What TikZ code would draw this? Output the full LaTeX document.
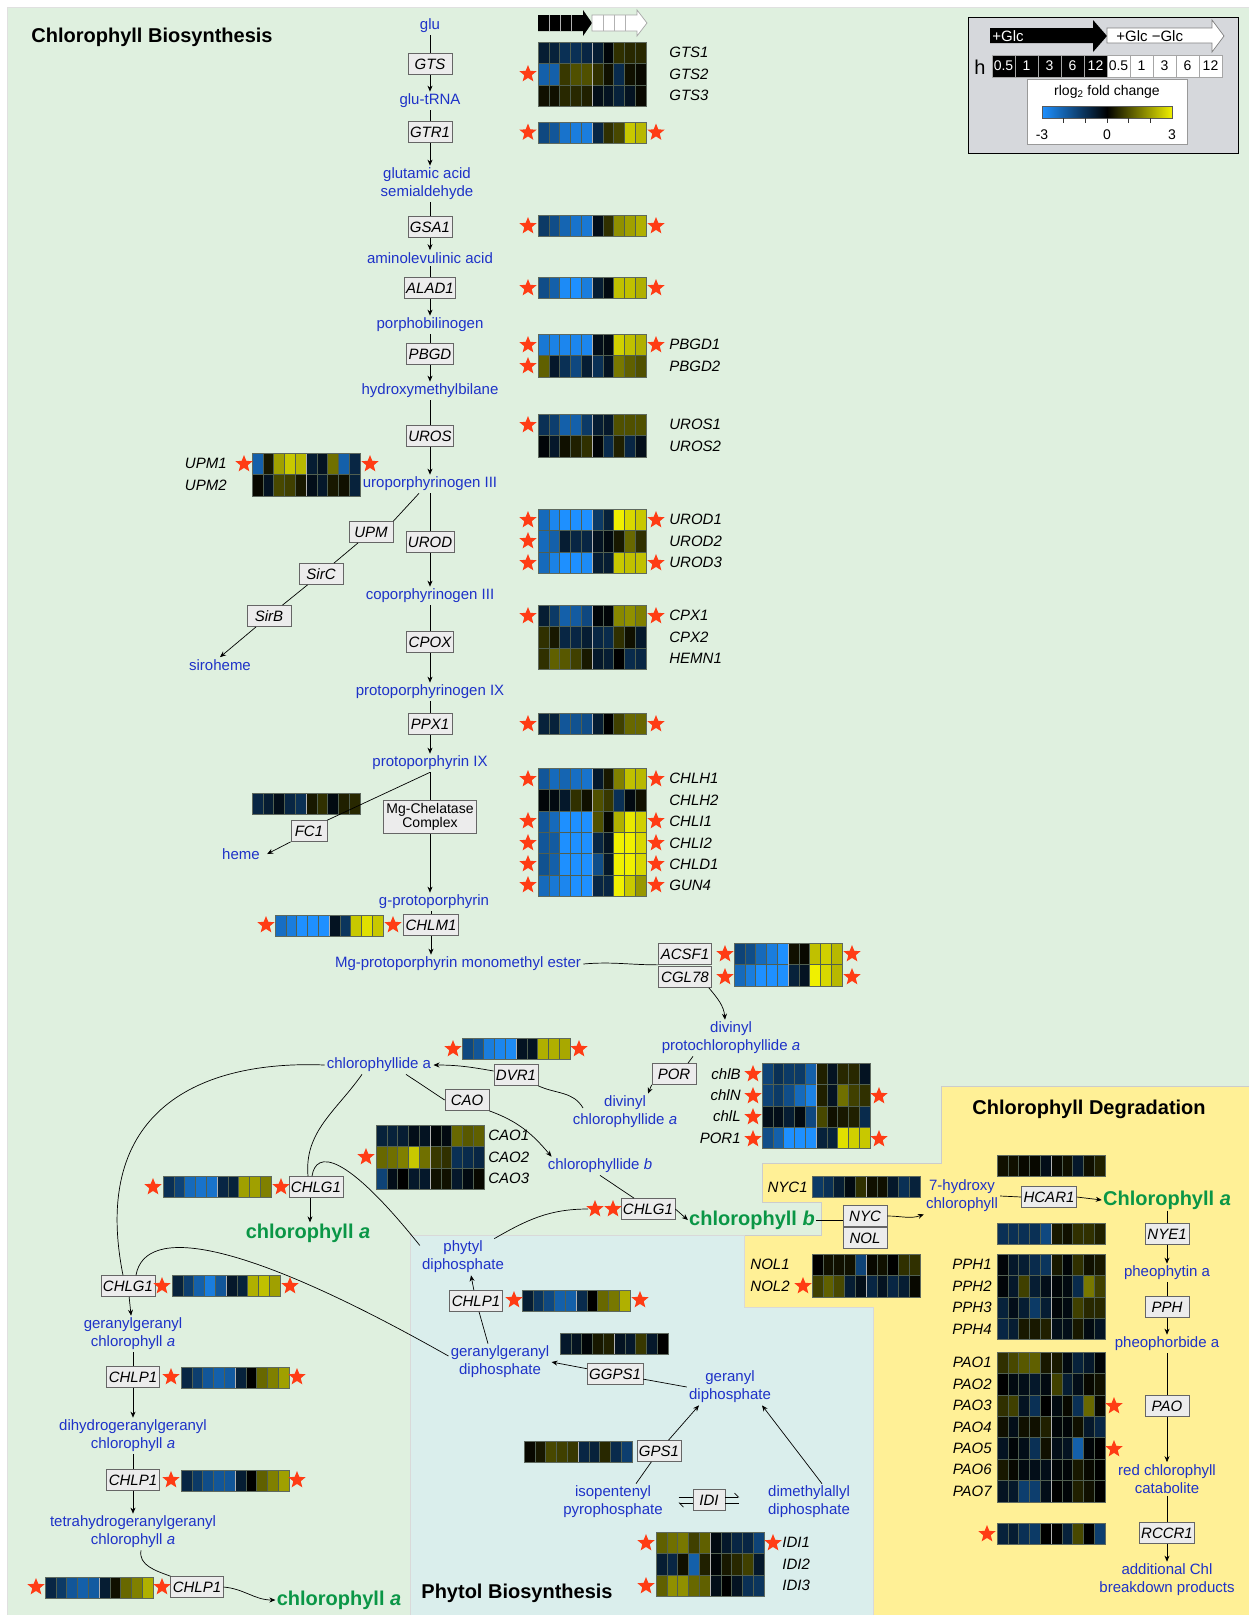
\documentclass[tikz,border=0pt]{standalone}
\usepackage{fontspec}
\setmainfont{Liberation Sans}
\usetikzlibrary{arrows.meta, positioning}

\definecolor{fondoverde}{RGB}{223,240,223}
\definecolor{fondocian}{RGB}{218,238,236}
\definecolor{fondoamar}{RGB}{255,240,150}
\definecolor{metazul}{RGB}{30,50,200}
\definecolor{verdeclor}{RGB}{10,150,70}
\definecolor{hmazul}{RGB}{30,144,255}
\definecolor{hmamar}{RGB}{240,240,0}
\definecolor{hmborde}{RGB}{80,95,80}
\definecolor{cajagris}{RGB}{236,236,236}
\definecolor{estrojo}{RGB}{255,60,20}
\definecolor{leyenda}{RGB}{214,216,220}

% Bloque de mapa de calor: x, y (esquina superior izquierda), filas, valores
\newcommand{\hmbloque}[4]{%
  \foreach \fila [count=\j] in {#4} {%
    \foreach \v [count=\i] in \fila {%
      \pgfmathsetmacro\pc{min(100,abs(\v)*33.3)}%
      \ifdim\v pt<0pt\relax \colorlet{hmc}{hmazul!\pc!black}\else \colorlet{hmc}{hmamar!\pc!black}\fi
      \fill[hmc] ({#1+(\i-1)*10.8},{#2+(\j-1)*21.4}) rectangle ++(10.8,21.4);
    }%
  }%
  \foreach \i in {1,...,9} \draw[hmborde, line width=0.4pt] ({#1+\i*10.8},#2) -- ++(0,{#3*21.4});
  \ifnum#3>1 \foreach \j in {2,...,#3} \draw[hmborde, line width=0.4pt] (#1,{#2+(\j-1)*21.4}) -- ++(108,0);\fi
  \draw[gray!60, line width=1pt] ({#1+54},#2) -- ++(0,{#3*21.4});
  \draw[hmborde!70!gray, line width=0.5pt] (#1,#2) rectangle ++(108,{#3*21.4});
}
% Estrella roja centrada en (x,y)
\newcommand{\est}[2]{\fill[estrojo, shift={(#1,#2)}] (0,-9) -- (2.3,-3.17) -- (8.56,-2.78)
  -- (3.73,1.21) -- (5.29,7.28) -- (0,3.92) -- (-5.29,7.28) -- (-3.73,1.21) -- (-8.56,-2.78)
  -- (-2.3,-3.17) -- cycle;}

\begin{document}
\begin{tikzpicture}[x=1pt, y=-1pt, line width=0.7pt, >={Stealth[length=6pt,width=5pt]},
  met/.style={text=metazul, font=\fontsize{15}{18}\selectfont, align=center, inner sep=2pt},
  enz/.style={draw=gray!80!black, fill=cajagris, font=\fontsize{15}{17}\selectfont\itshape,
    inner sep=2pt, minimum width=44pt, minimum height=21pt},
  gen/.style={font=\fontsize{15}{17}\selectfont\itshape, inner sep=1pt},
  verde/.style={text=verdeclor, font=\fontsize{20}{22}\selectfont\bfseries, inner sep=1pt},
  titulo/.style={font=\fontsize{20}{22}\selectfont\bfseries, inner sep=1pt},
  leytxt/.style={font=\fontsize{14}{16}\selectfont, inner sep=1pt}]
\useasboundingbox (0,0) rectangle (1249,1615);

% Fondos de las tres zonas
\filldraw[fill=fondoverde, draw=black!12] (7,7) rectangle (1249,1615);
\filldraw[fill=fondoamar, draw=black!20] (941,1086) -- (1249,1086) -- (1249,1615) -- (873,1615)
  -- (873,1307) -- (744,1307) -- (744,1235) -- (821,1235) -- (821,1202) -- (762,1202)
  -- (762,1163) -- (941,1163) -- cycle;
\filldraw[fill=fondocian, draw=black!15] (410,1235) -- (744,1235) -- (744,1307) -- (873,1307)
  -- (873,1615) -- (410,1615) -- cycle;

% Cabecera de las columnas
\fill[black] (538,15) -- (583,15) -- (583,10) -- (592,23) -- (583,36) -- (583,31) -- (538,31) -- cycle;
\foreach \c in {549.2,560.5,571.7} \draw[gray!60, line width=0.5pt] (\c,15) -- (\c,31);
\filldraw[fill=white, draw=gray!70] (592,15) -- (637,15) -- (637,10) -- (647,23) -- (637,36) -- (637,31) -- (592,31) -- cycle;
\foreach \c in {603.2,614.5,625.7} \draw[gray!60, line width=0.5pt] (\c,15) -- (\c,31);

% Mapas de calor: columna derecha
\hmbloque{538}{42}{3}{{-0.6,-0.7,-1,-1,-0.8,-0.6,-0.1,0.6,0.5,0.5},{-2,-2,0.7,1,1,0.6,0.2,-0.9,0.2,0.1},{0.2,0.2,0.5,0.5,0.4,-0.3,-0.4,-0.7,-0.4,0.1}}
\hmbloque{538}{122}{1}{{-1.5,-1.8,-2.4,-2.6,-2.6,-0.8,0.6,0.9,2.5,2.3}}
\hmbloque{538}{215}{1}{{-1.2,-1.6,-2.1,-2.4,-2.5,-0.3,0.6,1.8,2,2.2}}
\hmbloque{538}{277}{1}{{-1.6,-2,-2.9,-3,-2.6,-0.6,-0.2,2.4,2.4,2.2}}
\hmbloque{538}{334}{2}{{-2.5,-2.7,-2.8,-2.8,-2.8,-0.3,-0.2,2.6,2.4,2.2},{1.2,-0.5,-1,-1.5,-0.6,-1,-0.4,1.5,1.2,1}}
\hmbloque{538}{414}{2}{{-1,-1.3,-2,-2,-1.2,-0.6,-0.5,1,1,1},{-0.1,-0.5,0.2,0.4,0.6,-0.1,-0.9,0.4,-0.8,-0.3}}
\hmbloque{538}{509}{3}{{-2.2,-2.8,-3,-3,-3,-1.2,-0.7,3,2.7,2.5},{-2.2,-2,-0.6,-0.8,-0.8,-0.4,-0.2,0.3,1.3,0.6},{-2.2,-2.7,-3,-3,-2.9,-0.6,-0.6,2.5,2.4,2.4}}
\hmbloque{538}{605}{3}{{-0.6,-1.2,-2,-1.9,-1.5,-0.1,-0.1,1.7,1.8,1.6},{0.6,0.3,-0.8,-0.8,-0.6,-0.8,-0.9,0.6,0.2,-0.5},{0.6,1.2,1.1,0.8,0.3,-0.5,-0.6,0,-0.9,-0.8}}
\hmbloque{538}{713}{1}{{-0.7,-0.7,-1.8,-1.7,-1.6,-0.6,0,0.8,1.3,1.3}}
\hmbloque{538}{768}{6}{{-1.8,-2.2,-2.1,-2.3,-2.4,-0.5,0.3,1.6,2.4,2.3},{-0.1,-0.2,-0.5,0.6,0.2,1,0.7,-1,-0.2,0.2},{-1.8,-2.2,-3,-3,-3,1,0.1,2.2,2.9,2.6},{-1.8,-1.9,-3,-3,-3,-0.8,-0.4,3,3,2.7},{-1.7,-2,-3,-3,-3,-1.6,-0.5,3,3,2.7},{-2.2,-2.5,-2.8,-3,-3,-0.8,-0.8,3,2.5,1.9}}

% Mapas de calor: resto de la biosintesis
\hmbloque{252}{453}{2}{{-2,0.3,2,2.5,2.3,-0.6,-0.4,1.4,-2,-0.8},{0.1,-0.4,0.9,0.8,0.3,-0.3,-0.5,0.3,0.2,-0.7}}
\hmbloque{252}{793}{1}{{-0.8,-0.6,-0.3,-0.8,-1,0.3,0.6,-0.2,0.4,0.5}}
\hmbloque{275}{915}{1}{{-2.3,-2.6,-3,-3,-3,-0.4,-1.1,2.5,2.8,2.5}}
\hmbloque{734}{943}{2}{{-1.4,-1.6,-2.2,-2.6,-3,0.2,0.1,2.4,2.6,2.3},{-2.2,-2.6,-3,-3,-3,-0.7,-0.4,3,2.7,2.3}}
\hmbloque{462}{1038}{1}{{-1.5,-1.8,-2.6,-2.8,-2.9,-0.4,-0.4,2.2,2.2,2.1}}
\hmbloque{762}{1063}{4}{{-1.4,-1,-1.2,-1.2,-2,0.4,-0.4,0.5,0.5,-0.4},{-1.4,-1.2,-1.6,-2.2,-2.7,0.4,-0.4,1.4,0.8,0.6},{-0.3,-0.3,-0.6,-0.2,-1.5,0.9,0.2,0.3,0.4,-0.9},{-1.6,-2,-3,-3,-3,-0.7,-0.7,2.8,2.6,2.5}}
\hmbloque{376}{1125}{3}{{-0.7,-0.7,-0.6,-0.3,-0.4,-0.1,-0.2,1.3,1.1,1.2},{1.3,1.4,1.6,2.5,1.4,0.7,0.6,-1,-0.9,-0.8},{-1.4,-0.3,0,-0.5,-0.5,0.2,0.2,-0.5,-0.2,0.1}}
\hmbloque{163}{1176}{1}{{-1,-1.4,-2.2,-2.4,-2.4,-0.8,-0.7,2,2,1.6}}
\hmbloque{172}{1275}{1}{{-0.7,-1.3,-2,-2.6,-1.8,-0.5,-0.7,2.2,2.4,2}}
\hmbloque{181}{1367}{1}{{-0.8,-1.3,-1.8,-2,-1.9,-0.7,0,1.3,1.6,2}}
\hmbloque{181}{1470}{1}{{-0.8,-1.2,-1.6,-1.8,-1.8,-0.6,0,1.2,1.6,2}}
\hmbloque{45}{1577}{1}{{-0.8,-1.2,-1.8,-2,-1.9,-0.6,0.2,1.3,1.6,2.2}}

% Mapas de calor: fitol
\hmbloque{522}{1290}{1}{{-0.6,-1.1,-1.5,-2,-2,-0.9,0,1.3,1.5,2.2}}
\hmbloque{560}{1333}{1}{{-0.5,-0.4,-0.1,0.3,0.4,-0.4,-0.5,0.7,-0.5,0}}
\hmbloque{524}{1441}{1}{{0.1,0.3,0.9,0.8,0.7,-0.8,-0.7,0.5,-0.9,-1.3}}
\hmbloque{656}{1532}{3}{{1.2,1.4,1.5,0.8,1.2,-0.2,-0.5,-0.8,-0.8,-1.4},{-0.6,-0.8,0.2,-2,0.4,-0.1,0.3,0.5,0.8,-0.5},{1.2,1.8,1.8,1.3,1.2,-0.3,0,-0.4,-1,-1.1}}

% Mapas de calor: degradacion
\hmbloque{812}{1176}{1}{{-1.2,-1,-0.6,-0.2,0.6,0.2,0.2,-0.5,-1,-0.7}}
\hmbloque{812}{1254}{2}{{0,0.2,0.2,0.2,-1.4,0.1,0.2,0,0.6,0.6},{0.8,1.2,0.9,-0.6,-0.3,-0.8,-0.4,-0.8,-0.6,0.1}}
\hmbloque{997}{1155}{1}{{0.2,0.2,0.1,0.1,-0.3,0.1,0.2,-0.5,0.2,0.4}}
\hmbloque{997}{1223}{1}{{-1,-1,-1,-1,-1.5,0.3,0.2,0.6,0.6,0.4}}
\hmbloque{997}{1254}{4}{{-0.1,-0.5,-0.6,-0.9,-1.1,0.3,-0.1,0.6,0.2,0.3},{-0.1,-0.5,0.8,-0.6,-0.3,-0.1,-0.2,-0.9,1.5,0.8},{-0.7,-0.3,-0.6,-1.2,-0.6,-0.1,-0.2,0.8,0.5,0.5},{-0.8,-0.6,0.3,0.3,0.4,-0.3,-0.3,0.3,-0.2,-0.4}}
\hmbloque{997}{1352}{7}{{0.6,0.9,1.1,1.2,0.3,0.3,-0.2,-0.7,-0.5,-0.1},{0,-0.2,-0.3,-0.5,-0.2,0.8,-0.6,-0.3,0.1,0.2},{0.6,0.8,-0.4,-1,0,-0.2,0.1,-1,1.3,0.1},{0.2,-0.3,0.2,0.2,0.4,-0.1,-0.1,0.2,-0.5,-0.8},{-0.4,-0.1,-0.3,-1,0.2,-0.3,-0.4,-2,-0.1,0},{0.3,0.1,-0.2,-0.3,-0.3,-0.1,-0.1,0.3,0.1,0},{-0.4,-0.5,-1.3,-1.3,-0.3,0,-0.1,0.4,0.2,0}}
\hmbloque{997}{1523}{1}{{-0.7,-0.6,-1,-1.2,0,0,-0.7,0.9,0,-1.3}}

% Titulos
\node[titulo] (tbio) at (152,37) {Chlorophyll Biosynthesis};
\node[titulo] (tdeg) at (1089,1109) {Chlorophyll Degradation};
\node[titulo] (tfit) at (517,1593) {Phytol Biosynthesis};

% Columna principal
\node[met] (glu) at (430,26) {glu};
\node[enz] (GTS) at (430,64) {GTS};
\node[met] (glutrna) at (430,101) {glu-tRNA};
\node[enz] (GTR1) at (430,132) {GTR1};
\node[met] (gsald) at (427,184) {glutamic acid\\semialdehyde};
\node[enz] (GSA1) at (430,227) {GSA1};
\node[met] (ala) at (430,258) {aminolevulinic acid};
\node[enz] (ALAD1) at (430,288) {ALAD1};
\node[met] (pbg) at (430,325) {porphobilinogen};
\node[enz] (PBGD) at (430,354) {PBGD};
\node[met] (hmb) at (430,391) {hydroxymethylbilane};
\node[enz] (UROS) at (430,436) {UROS};
\node[met] (urogen) at (430,484) {uroporphyrinogen III};
\node[enz] (UROD) at (430,542) {UROD};
\node[met] (coprogen) at (430,596) {coporphyrinogen III};
\node[enz] (CPOX) at (430,642) {CPOX};
\node[met] (protogen) at (430,692) {protoporphyrinogen IX};
\node[enz] (PPX1) at (430,724) {PPX1};
\node[met] (proto) at (430,763) {protoporphyrin IX};
\node[enz, font=\fontsize{14}{14}\selectfont, align=center, inner sep=3pt] (MgCh) at (430,817) {Mg-Chelatase\\Complex};
\node[met] (mgproto) at (434,902) {g-protoporphyrin};
\node[enz] (CHLM1) at (431,925) {CHLM1};
\node[met] (mgpme) at (458,964) {Mg-protoporphyrin monomethyl ester};

% Ramas laterales
\node[enz] (UPM) at (371,532) {UPM};
\node[enz] (SirC) at (321,574) {SirC};
\node[enz] (SirB) at (269,616) {SirB};
\node[met] (siroheme) at (220,665) {siroheme};
\node[enz, minimum width=36pt] (FC1) at (309,831) {FC1};
\node[met] (heme) at (241,854) {heme};

% Clorofilidas
\node[enz, minimum width=53pt] (ACSF1) at (685,954) {ACSF1};
\node[enz, minimum width=53pt] (CGL78) at (685,977) {CGL78};
\node[met] (dvpchlide) at (731,1038) {divinyl\\protochlorophyllide \textit{a}};
\node[enz] (POR) at (674,1074) {POR};
\node[met] (dvchlide) at (625,1112) {divinyl\\chlorophyllide \textit{a}};
\node[enz] (DVR1) at (516,1075) {DVR1};
\node[met] (chlidea) at (379,1065) {chlorophyllide a};
\node[enz] (CAO) at (467,1100) {CAO};
\node[met] (chlideb) at (600,1166) {chlorophyllide \textit{b}};
\node[enz] (CHLG1b) at (648,1209) {CHLG1};
\node[verde] (chlb) at (752,1220) {chlorophyll \textit{b}};
\node[enz] (CHLG1a) at (316,1187) {CHLG1};
\node[verde] (chla1) at (308,1233) {chlorophyll \textit{a}};

% Via de la geranilgeranil clorofila
\node[enz] (CHLG1c) at (128,1286) {CHLG1};
\node[met] (ggchla) at (133,1334) {geranylgeranyl\\chlorophyll \textit{a}};
\node[enz] (CHLP1a) at (133,1377) {CHLP1};
\node[met] (dhggchla) at (133,1436) {dihydrogeranylgeranyl\\chlorophyll \textit{a}};
\node[enz] (CHLP1b) at (133,1480) {CHLP1};
\node[met] (thggchla) at (133,1532) {tetrahydrogeranylgeranyl\\chlorophyll \textit{a}};
\node[enz] (CHLP1c) at (197,1587) {CHLP1};
\node[verde] (chla2) at (339,1600) {chlorophyll \textit{a}};

% Biosintesis del fitol
\node[met] (phytylpp) at (463,1257) {phytyl\\diphosphate};
\node[enz] (CHLP1d) at (476,1301) {CHLP1};
\node[met] (ggpp) at (500,1362) {geranylgeranyl\\diphosphate};
\node[enz] (GGPS1) at (615,1374) {GGPS1};
\node[met] (gpp) at (730,1387) {geranyl\\diphosphate};
\node[enz] (GPS1) at (659,1451) {GPS1};
\node[met] (ipp) at (613,1502) {isopentenyl\\pyrophosphate};
\node[met] (dmapp) at (809,1502) {dimethylallyl\\diphosphate};
\node[enz, minimum width=32pt] (IDI) at (709,1500) {IDI};

% Degradacion
\node[enz] (NYC) at (865,1216) {NYC};
\node[enz] (NOL) at (865,1238) {NOL};
\node[met] (hchl) at (962,1196) {7-hydroxy\\chlorophyll};
\node[enz] (HCAR1) at (1049,1197) {HCAR1};
\node[verde] (Chla3) at (1167,1200) {Chlorophyll \textit{a}};
\node[enz] (NYE1) at (1167,1234) {NYE1};
\node[met] (pheophytin) at (1167,1273) {pheophytin a};
\node[enz] (PPH) at (1167,1307) {PPH};
\node[met] (pheophorbide) at (1167,1344) {pheophorbide a};
\node[enz] (PAO) at (1167,1406) {PAO};
\node[met] (rcc) at (1167,1479) {red chlorophyll\\catabolite};
\node[enz] (RCCR1) at (1167,1533) {RCCR1};
\node[met] (fccs) at (1167,1580) {additional Chl\\breakdown products};

% Nombres de los genes
\foreach \g [count=\k] in {GTS1,GTS2,GTS3} \node[gen, anchor=west] (g\g) at (668,{31.3+\k*21.4}) {\g};
\foreach \g [count=\k] in {PBGD1,PBGD2} \node[gen, anchor=west] (g\g) at (668,{323.3+\k*21.4}) {\g};
\foreach \g [count=\k] in {UROS1,UROS2} \node[gen, anchor=west] (g\g) at (668,{403.3+\k*21.4}) {\g};
\foreach \g [count=\k] in {UROD1,UROD2,UROD3} \node[gen, anchor=west] (g\g) at (668,{498.3+\k*21.4}) {\g};
\foreach \g [count=\k] in {CPX1,CPX2,HEMN1} \node[gen, anchor=west] (g\g) at (668,{594.3+\k*21.4}) {\g};
\foreach \g [count=\k] in {CHLH1,CHLH2,CHLI1,CHLI2,CHLD1,GUN4} \node[gen, anchor=west] (g\g) at (668,{757.3+\k*21.4}) {\g};
\foreach \g [count=\k] in {UPM1,UPM2} \node[gen, anchor=east] (g\g) at (228,{442.3+\k*21.4}) {\g};
\foreach \g [count=\k] in {chlB,chlN,chlL,POR1} \node[gen, anchor=east] (g\g) at (742,{1052.3+\k*21.4}) {\g};
\foreach \g [count=\k] in {CAO1,CAO2,CAO3} \node[gen, anchor=west] (g\g) at (487,{1114.3+\k*21.4}) {\g};
\foreach \g [count=\k] in {IDI1,IDI2,IDI3} \node[gen, anchor=west] (g\g) at (781,{1521.3+\k*21.4}) {\g};
\node[gen, anchor=east] (gNYC1) at (809,1187) {NYC1};
\foreach \g [count=\k] in {NOL1,NOL2} \node[gen, anchor=east] (g\g) at (791,{1243.3+\k*21.4}) {\g};
\foreach \g [count=\k] in {PPH1,PPH2,PPH3,PPH4} \node[gen, anchor=east] (g\g) at (993,{1243.3+\k*21.4}) {\g};
\foreach \g [count=\k] in {PAO1,PAO2,PAO3,PAO4,PAO5,PAO6,PAO7} \node[gen, anchor=east] (g\g) at (993,{1341.3+\k*21.4}) {\g};

% Flechas de la columna principal
\draw (glu) -- (GTS);
\draw[->] (GTS) -- (glutrna);
\draw (glutrna) -- (GTR1);
\draw[->] (GTR1) -- (GTR1 |- gsald.north);
\draw (GSA1 |- gsald.south) -- (GSA1);
\draw[->] (GSA1) -- (ala);
\draw (ala) -- (ALAD1);
\draw[->] (ALAD1) -- (pbg);
\draw (pbg) -- (PBGD);
\draw[->] (PBGD) -- (hmb);
\draw (hmb) -- (UROS);
\draw[->] (UROS) -- (urogen);
\draw (urogen) -- (UROD);
\draw[->] (UROD) -- (coprogen);
\draw (coprogen) -- (CPOX);
\draw[->] (CPOX) -- (protogen);
\draw (protogen) -- (PPX1);
\draw[->] (PPX1) -- (proto);
\draw (proto) -- (MgCh);
\draw[->] (MgCh) -- (MgCh |- mgproto.north);
\draw (CHLM1 |- mgproto.south) -- (CHLM1);
\draw[->] (CHLM1) -- (CHLM1 |- mgpme.north);

% Flechas de las ramas laterales
\draw ([xshift=-11pt]urogen.south) -- (UPM.north east);
\draw (UPM) -- (SirC);
\draw (SirC) -- (SirB);
\draw[->] (SirB) -- (siroheme.north);
\draw (proto.south) -- (FC1.north east);
\draw[->] (FC1.south west) -- ([xshift=5pt]heme.east);

% Flechas de las clorofilidas
\draw (mgpme.east) to[out=5,in=180] (ACSF1.south west);
\draw[->] ([xshift=-3pt]CGL78.south east) to[out=-50,in=95] ([xshift=-6pt]dvpchlide.north);
\draw ([xshift=-38pt]dvpchlide.south) -- ([xshift=14pt]POR.north);
\draw[->] (POR.south west) -- ([xshift=23pt]dvchlide.north);
\draw ([xshift=-42pt,yshift=4pt]dvchlide.center) to[out=120,in=-25] (DVR1.south east);
\draw[->] ([yshift=4pt]DVR1.west) to[out=170,in=0] (chlidea.east);
\draw ([xshift=27pt]chlidea.south) -- (CAO.west);
\draw[->] (CAO.south east) to[out=-20,in=130] ([xshift=6pt]chlideb.north west);
\draw (chlideb.south) -- ([xshift=-14pt]CHLG1b.north);
\draw[->] (CHLG1b.east) -- (chlb.west);
\draw ([xshift=-17pt]chlidea.south) to[out=-125,in=95] ([xshift=-8pt]CHLG1a.north);
\draw[->] ([xshift=-6pt]CHLG1a.south) -- ([xshift=-6pt]CHLG1a.south |- chla1.north);
\draw ([xshift=-4pt]CHLG1a.north) .. controls (316,1150) and (345,1152) .. (phytylpp.165);
\draw (chlidea.west) .. controls (200,1060) and (90,1110) .. ([xshift=-5pt]CHLG1c.north);
\draw ([xshift=8pt]CHLG1c.north) .. controls (145,1225) and (240,1238) .. ([yshift=6pt]ggpp.west);
\draw[->] (CHLG1c) -- (ggchla);
\draw (ggchla) -- (CHLP1a);
\draw[->] (CHLP1a) -- (dhggchla);
\draw (dhggchla) -- (CHLP1b);
\draw[->] (CHLP1b) -- (thggchla);
\draw ([xshift=8pt]thggchla.south) to[out=-100,in=160] (CHLP1c.north west);
\draw[->] (CHLP1c.east) to[out=-5,in=180] (chla2.west);

% Flechas del fitol
\draw ([xshift=-12pt]ggpp.north) -- (CHLP1d);
\draw[->] (CHLP1d) -- ([xshift=8pt]phytylpp.south);
\draw (gpp.west) -- (GGPS1);
\draw[->] (GGPS1) -- (ggpp.east);
\draw ([xshift=23pt]ipp.north) -- (GPS1);
\draw[->] (GPS1) -- ([xshift=-31pt]gpp.south);
\draw[->] ([xshift=13pt]dmapp.north) -- ([xshift=32pt]gpp.south);
\draw ([xshift=-14pt,yshift=3pt]IDI.west) -- ([yshift=3pt]IDI.west);
\draw[-{Straight Barb[left,length=4pt]}] ([yshift=-3pt]IDI.west) -- ([xshift=-14pt,yshift=-3pt]IDI.west);
\draw[-{Straight Barb[left,length=4pt]}] ([yshift=3pt]IDI.east) -- ([xshift=14pt,yshift=3pt]IDI.east);
\draw ([yshift=-3pt]IDI.east) -- ([xshift=14pt,yshift=-3pt]IDI.east);

% Flechas de la degradacion
\draw (chlb.east) -- (chlb.east -| NYC.west);
\draw[->] (NYC.east) to[out=0,in=200] (hchl.south west);
\draw (hchl.east) -- (HCAR1.west);
\draw[->] (HCAR1.east) -- (Chla3.west);
\draw (Chla3) -- (NYE1);
\draw[->] (NYE1) -- (pheophytin);
\draw (pheophytin) -- (PPH);
\draw[->] (PPH) -- (pheophorbide);
\draw (pheophorbide) -- (PAO);
\draw[->] (PAO) -- (rcc);
\draw (rcc) -- (RCCR1);
\draw[->] (RCCR1) -- (fccs);

% Estrellas
\est{528}{74}
\foreach \y in {132.5,226,288,345,366,425,520,541,563,616,724,779,821,843,864,885} {\est{528}{\y}}
\foreach \y in {132.5,226,288,345,520,563,616,724,779,821,843,864,885} {\est{656}{\y}}
\est{244}{464} \est{370}{464}
\est{266}{925} \est{393}{925}
\foreach \y in {954,977} {\est{725}{\y} \est{852}{\y}}
\est{453}{1049} \est{579}{1049}
\foreach \y in {1074,1096,1117,1139} {\est{753}{\y}}
\est{879}{1096} \est{879}{1139}
\est{366}{1157}
\est{153}{1187} \est{281}{1187}
\est{595}{1209} \est{613}{1209}
\coordinate (sCHLG1b) at (588,1209);
\est{162}{1286} \est{290}{1286}
\foreach \y in {1377,1480} {\est{171}{\y} \est{297}{\y}}
\est{36}{1587} \est{162}{1587}
\est{514}{1300} \est{640}{1300}
\est{646}{1543} \est{773}{1543} \est{646}{1586}
\est{803}{1286}
\est{1114}{1406} \est{1114}{1449}
\est{987}{1534}
\draw ([xshift=-12pt]phytylpp.north east) to[out=30,in=180] (sCHLG1b);

% Leyenda
\filldraw[fill=leyenda, draw=black, line width=1pt] (968,17) rectangle (1238,153);
\fill[black] (990,28) -- (1093,28) -- (1093,20) -- (1107,36) -- (1093,52) -- (1093,43) -- (990,43) -- cycle;
\filldraw[fill=white, draw=gray] (1107,28) -- (1212,28) -- (1212,20) -- (1224,36) -- (1212,52) -- (1212,43) -- (1107,43) -- cycle;
\node[leytxt, text=white, anchor=west, font=\fontsize{15}{16}\selectfont] (lgMas) at (991,36) {+Glc};
\node[leytxt, anchor=west, font=\fontsize{15}{16}\selectfont] (lgMenos) at (1115,36) {+Glc −Glc};
\node[font=\fontsize{20}{22}\selectfont, inner sep=0pt] (lgH) at (980,67) {h};
\foreach \h [count=\i] in {0.5,1,3,6,12} {
  \filldraw[fill=black, draw=gray!70] ({992+(\i-1)*23},55) rectangle ++(23,22);
  \node[leytxt, text=white] (hb\i) at ({1003.5+(\i-1)*23},66) {\h};
  \filldraw[fill=white, draw=gray!70] ({1107+(\i-1)*23},55) rectangle ++(23,22);
  \node[leytxt] (hw\i) at ({1118.5+(\i-1)*23},66) {\h};
}
\filldraw[fill=white, draw=gray!80] (1027,79) rectangle (1187,144);
\node[leytxt] (lgTit) at (1107,92) {rlog\textsubscript{2} fold change};
\shade[left color=hmazul, right color=black] (1042,106) rectangle (1107,118);
\shade[left color=black, right color=hmamar] (1107,106) rectangle (1172,118);
\draw[gray!70!black] (1042,106) rectangle (1172,118);
\foreach \t in {1063.7,1085.3,1107,1128.7,1150.3} \draw[black!80] (\t,118) -- (\t,123);
\node[leytxt] (lgA) at (1042,135) {-3};
\node[leytxt] (lgB) at (1107,135) {0};
\node[leytxt] (lgC) at (1172,135) {3};
\end{tikzpicture}
\end{document}
